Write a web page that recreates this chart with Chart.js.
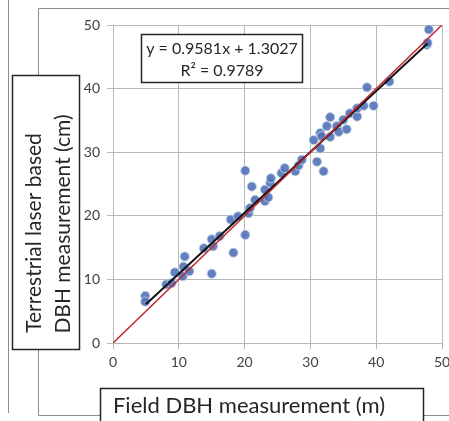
<!DOCTYPE html>
<html>
<head>
<meta charset="utf-8">
<script src="https://cdn.jsdelivr.net/npm/chart.js@4"></script>
<style>
  html, body { margin: 0; padding: 0; background: #fff; }
  canvas { display: block; }
</style>
</head>
<body>
<canvas id="dbhChart" width="449" height="421"></canvas>
<script>
// Field DBH (x) vs terrestrial laser DBH (y)
const fieldDbh = [4.9, 4.9, 8.1, 8.9, 9.4, 10.6, 10.7, 10.9, 11.6, 13.8, 15.0, 15.0, 15.2, 16.2,
  17.9, 18.3, 19.0, 20.1, 20.1, 20.6, 20.8, 21.1, 21.6, 23.1, 23.1, 23.6, 23.9, 24.0,
  25.6, 26.1, 27.7, 28.2, 28.7, 30.5, 31.0, 31.5, 31.5, 31.7, 32.0, 32.5, 33.0, 33.0,
  34.0, 34.3, 35.0, 35.5, 36.0, 37.1, 37.1, 38.1, 38.6, 39.6, 42.0, 47.7, 47.8, 48.0];
const laserDbh = [7.4, 6.5, 9.2, 9.4, 11.1, 10.5, 12.0, 13.6, 11.3, 14.9, 16.3, 10.9, 15.2, 16.8,
  19.4, 14.2, 19.9, 27.1, 17.0, 20.4, 21.2, 24.6, 22.5, 22.3, 24.1, 22.9, 25.2, 25.9,
  26.7, 27.5, 27.0, 27.9, 28.8, 31.9, 28.5, 30.6, 33.0, 32.5, 27.0, 34.1, 35.5, 32.4,
  34.1, 33.2, 35.1, 33.6, 36.1, 35.6, 36.9, 37.3, 40.2, 37.3, 41.1, 46.9, 47.2, 49.3];

// linear fit shown in the box, drawn over the range of the data
const fitSlope = 0.9581;
const fitIntercept = 1.3027;
const fitR2 = 0.9789;
const fitRange = [5, 47.8];
// 1:1 reference line
const oneToOne = [0, 50];
const axisTicks = [0, 10, 20, 30, 40, 50];

const FONT = 'Lato, "Open Sans", sans-serif';

const points = fieldDbh.map((x, i) => ({ x, y: laserDbh[i] }));
const trend = fitRange.map(x => ({ x, y: fitSlope * x + fitIntercept }));
const identity = oneToOne.map(v => ({ x: v, y: v }));

// white background + the figure frame, boxes and titles
const decor = {
  id: 'decor',
  beforeDraw(chart) {
    const ctx = chart.ctx;
    ctx.save();
    ctx.fillStyle = '#fff';
    ctx.fillRect(0, 0, chart.width, chart.height);
    ctx.strokeStyle = '#8c8c8c';
    ctx.lineWidth = 1;
    ctx.beginPath();
    ctx.moveTo(38.5, 415.5); ctx.lineTo(38.5, 8.5); ctx.lineTo(449, 8.5);
    ctx.moveTo(38.5, 415.5); ctx.lineTo(449, 415.5);
    ctx.moveTo(8.5, 0); ctx.lineTo(8.5, 413);
    ctx.stroke();
    ctx.restore();
  },
  afterDraw(chart) {
    const ctx = chart.ctx;
    ctx.save();
    ctx.lineWidth = 1.5;
    ctx.strokeStyle = '#262626';
    ctx.fillStyle = '#fff';

    // equation box
    ctx.fillRect(141, 34, 162, 49);
    ctx.strokeRect(141.5, 34.5, 161, 48);
    ctx.fillStyle = '#262626';
    ctx.font = '16px ' + FONT;
    ctx.textAlign = 'center';
    ctx.textBaseline = 'middle';
    ctx.fillText('y = ' + fitSlope + 'x + ' + fitIntercept, 222, 49);
    ctx.fillText('R² = ' + fitR2, 222, 71);

    // y title box
    ctx.fillStyle = '#fff';
    ctx.fillRect(12, 75, 68, 275);
    ctx.strokeRect(12.5, 75.5, 67, 274);
    ctx.fillStyle = '#262626';
    ctx.font = '21px ' + FONT;
    ctx.save();
    ctx.rotate(-Math.PI / 2);
    ctx.textAlign = 'center';
    ctx.fillText('Terrestrial laser based', -233, 34);
    ctx.fillText('DBH measurement (cm)', -224, 63);
    ctx.restore();

    // x title box
    ctx.fillStyle = '#fff';
    ctx.fillRect(100, 388, 324, 40);
    ctx.strokeRect(100.5, 388.5, 323, 40);
    ctx.fillStyle = '#262626';
    ctx.font = '22px ' + FONT;
    ctx.textAlign = 'center';
    ctx.fillText('Field DBH measurement (m)', 249, 406);
    ctx.restore();
  }
};

const gridColor = '#b8b8b8';
const tickFont = { family: FONT, size: 14 };

new Chart(document.getElementById('dbhChart'), {
  type: 'scatter',
  data: {
    datasets: [
      {
        label: '1:1',
        type: 'line',
        data: identity,
        borderColor: '#c1272d',
        borderWidth: 1.5,
        pointRadius: 0,
        order: 0,
      },
      {
        label: 'Linear fit',
        type: 'line',
        data: trend,
        borderColor: '#111',
        borderWidth: 2,
        pointRadius: 0,
        order: 1,
      },
      {
        label: 'DBH',
        data: points,
        backgroundColor: 'rgba(80,114,182,0.9)',
        borderColor: 'rgba(195,207,230,0.9)',
        borderWidth: 1,
        pointRadius: 4.6,
        order: 2,
      },
    ],
  },
  options: {
    responsive: false,
    animation: false,
    layout: { padding: { top: 25, right: 7, left: 0, bottom: 0 } },
    plugins: {
      legend: { display: false },
      tooltip: { enabled: false },
    },
    scales: {
      x: {
        type: 'linear',
        min: 0,
        max: 50,
        afterBuildTicks: s => { s.ticks = axisTicks.map(v => ({ value: v })); },
        // let the "50" label run off the edge like the original
        afterFit: s => { s.height = 78; s.paddingRight = 0; },
        grid: { color: gridColor, tickLength: 6 },
        border: { color: gridColor },
        ticks: { font: tickFont, color: '#404040', padding: 5 },
      },
      y: {
        type: 'linear',
        min: 0,
        max: 50,
        afterBuildTicks: s => { s.ticks = axisTicks.map(v => ({ value: v })); },
        afterFit: s => { s.width = 113; },
        grid: { color: gridColor, tickLength: 6 },
        border: { color: gridColor },
        ticks: { font: tickFont, color: '#404040', padding: 7 },
      },
    },
  },
  plugins: [decor],
});
</script>
</body>
</html>
